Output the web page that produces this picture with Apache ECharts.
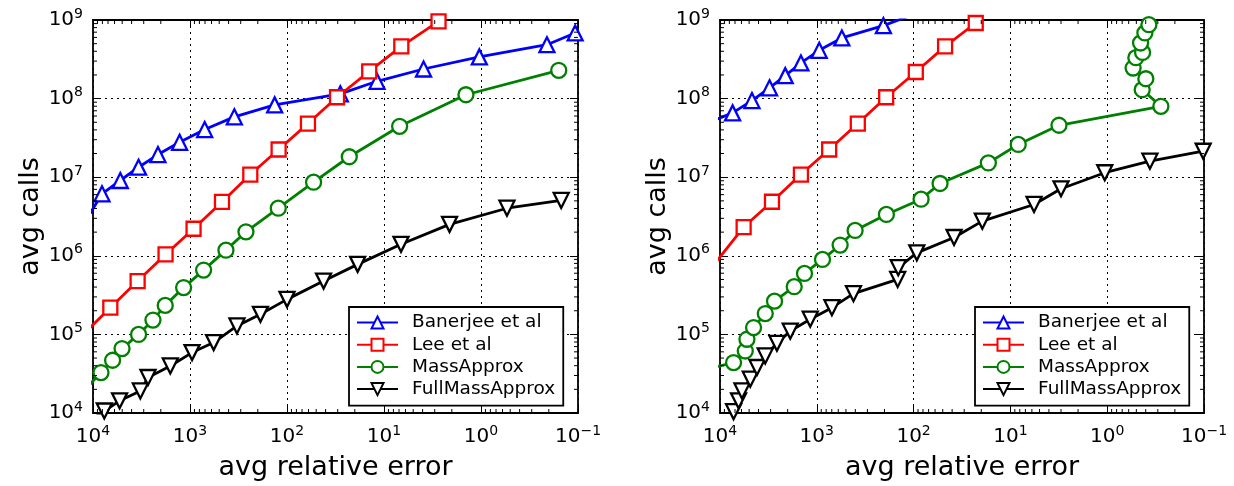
<!DOCTYPE html>
<html><head><meta charset="utf-8">
<script src="https://cdn.jsdelivr.net/npm/echarts@6/dist/echarts.min.js"></script>
<style>html,body{margin:0;padding:0;background:#fff}#c{width:1234px;height:486px}</style>
</head><body><div id="c"></div>
<script>
// ---- data: [avg relative error, avg calls] ----
const seriesNames = ['Banerjee et al', 'Lee et al', 'MassApprox', 'FullMassApprox'];
const leftBanerjee = [[1.07e4,3.46e6],[8080,6.15e6],[5230,9.08e6],[3390,1.34e7],[2140,1.94e7],[1280,2.78e7],[706,4.04e7],[349,5.86e7],[134,8.32e7],[28.2,1.15e8],[11.8,1.66e8],[3.91,2.38e8],[1.04,3.39e8],[0.209,4.85e8],[0.107,6.84e8]];
const leftLee = [[1.26e4,1.0e5],[6630,2.19e5],[3467,4.77e5],[1786,1.04e6],[919,2.21e6],[468,4.84e6],[239,1.08e7],[122,2.25e7],[60.8,4.81e7],[30.5,1.04e8],[14.2,2.22e8],[6.63,4.62e8],[2.74,9.6e8]];
const leftMass = [[1.09e4,2.28e4],[8270,3.27e4],[6280,4.69e4],[5020,6.6e4],[3390,1.0e5],[2410,1.52e5],[1800,2.34e5],[1164,3.94e5],[724,6.58e5],[426,1.18e6],[265,2.02e6],[123,4.04e6],[53.2,8.64e6],[22.8,1.82e7],[6.9,4.44e7],[1.43,1.12e8],[0.158,2.29e8]];
const leftFull = [[1.1e4,7.9e3],[7650,1.06e4],[5320,1.43e4],[3250,1.91e4],[2710,2.83e4],[1596,3.97e4],[953,5.87e4],[571,7.87e4],[328,1.28e5],[188,1.80e5],[100,2.79e5],[42,4.77e5],[18.7,7.78e5],[6.68,1.40e6],[2.11,2.51e6],[0.54,4.03e6],[0.149,5.06e6]];
const rightBanerjee = [[1.32e4,4.95e7],[7410,6.58e7],[4677,9.43e7],[3076,1.37e8],[2119,1.96e8],[1459,2.84e8],[944,4.11e8],[551,5.91e8],[205,8.47e8],[96.6,1.2e9]];
const rightLee = [[1.17e4,7.55e5],[5700,2.32e6],[2904,4.87e6],[1459,1.08e7],[745,2.25e7],[377,4.81e7],[192,1.04e8],[94.9,2.18e8],[47.3,4.62e8],[22.8,9.16e8]];
const rightMass = [[1.32e4,3.66e4],[7240,4.38e4],[5480,6.15e4],[5270,8.67e4],[4500,1.22e5],[3407,1.84e5],[2733,2.65e5],[1711,4.05e5],[1340,5.97e5],[873,9.0e5],[574,1.37e6],[402,2.10e6],[191,3.36e6],[83.7,5.25e6],[53.3,8.32e6],[16.9,1.52e7],[8.3,2.61e7],[3.15,4.58e7],[0.279,7.98e7],[0.435,1.30e8],[0.399,1.79e8],[0.540,2.45e8],[0.506,3.32e8],[0.431,3.87e8],[0.452,5.10e8],[0.408,6.84e8],[0.371,8.71e8],[0.346,1.07e9]];
const rightFull = [[6900,7.5e3],[7240,1.04e4],[6430,1.43e4],[5930,1.91e4],[4865,2.69e4],[4150,3.79e4],[3410,5.32e4],[2582,7.71e4],[1881,1.10e5],[1169,1.56e5],[698,2.19e5],[418,3.30e5],[146,5.01e5],[144,7.06e5],[92.7,1.09e6],[38.2,1.71e6],[19.5,2.76e6],[5.70,4.50e6],[3.0,7.12e6],[1.06,1.14e7],[0.362,1.60e7],[0.102,2.14e7]];
// axis ranges / ticks
const xRange = [0.1, 1e4];
const yRange = [1e4, 1e9];
const xMinorDecades = [-1, 0, 1, 2, 3];
const yMinorDecades = [4, 5, 6, 7, 8];
const minorMultipliers = [2, 3, 4, 5, 6, 7, 8, 9];
const xTitle = 'avg relative error';
const yTitle = 'avg calls';

const FONT = 'DejaVu Sans';
const colors = ['#0000ff', '#ff0000', '#008000', '#000000'];
const symbols = ['triangle', 'rect', 'circle', 'triangle'];
const rotations = [0, 0, 0, 180];
const symSizes = [15, 14, 15, 15];

function fmt(v) {
  const e = Math.round(Math.log10(v));
  return '{b|10}{s|' + (e < 0 ? '\u2212' + (-e) : e) + '}';
}
const rich = {
  b: { fontSize: 20, fontFamily: FONT, color: '#000' },
  s: { fontSize: 14, fontFamily: FONT, color: '#000', padding: [0, 0, 12, 0] }
};

const grids = [
  { left: 93, top: 20, width: 485, height: 394 },
  { left: 720, top: 20, width: 484, height: 394 }
];
const xAxes = [], yAxes = [];
grids.forEach((g, gi) => {
  const base = { type: 'log', logBase: 10, gridIndex: gi, axisLine: { show: true, onZero: false, lineStyle: { color: '#000', width: 1.8 } },
    axisTick: { show: true, inside: true, length: 8, lineStyle: { color: '#000', width: 1 } } };
  xAxes.push(Object.assign({}, base, { min: xRange[0], max: xRange[1], inverse: true, position: 'bottom',
    axisLabel: { show: true, formatter: fmt, rich: rich, margin: 11, showMinLabel: true, showMaxLabel: true },
    splitLine: { show: true, lineStyle: { color: '#000', width: 1, type: [2, 4] } },
    name: xTitle, nameLocation: 'middle', nameGap: 41, nameTextStyle: { fontSize: 27, fontFamily: FONT, color: '#000' } }));
  xAxes.push(Object.assign({}, base, { min: xRange[0], max: xRange[1], inverse: true, position: 'top',
    axisLabel: { show: false }, splitLine: { show: false } }));
  yAxes.push(Object.assign({}, base, { min: yRange[0], max: yRange[1], position: 'left',
    axisLabel: { show: true, formatter: fmt, rich: rich, margin: 10, showMinLabel: true, showMaxLabel: true },
    splitLine: { show: true, lineStyle: { color: '#000', width: 1, type: [2, 4] } },
    name: yTitle, nameLocation: 'middle', nameGap: 48, nameTextStyle: { fontSize: 27, fontFamily: FONT, color: '#000' } }));
  yAxes.push(Object.assign({}, base, { min: yRange[0], max: yRange[1], position: 'right',
    axisLabel: { show: false }, splitLine: { show: false } }));
});

const dataSets = [[leftBanerjee, leftLee, leftMass, leftFull], [rightBanerjee, rightLee, rightMass, rightFull]];
const series = [];
dataSets.forEach((sets, gi) => {
  sets.forEach((d, si) => {
    series.push({
      name: seriesNames[si], type: 'line', xAxisIndex: gi * 2, yAxisIndex: gi * 2, data: d,
      symbol: symbols[si], symbolSize: symSizes[si], symbolRotate: rotations[si], showAllSymbol: true,
      clip: true, animation: false,
      lineStyle: { color: colors[si], width: 2.8 },
      itemStyle: { color: '#fff', borderColor: colors[si], borderWidth: 2.3 },
      emphasis: { disabled: true }, z: 2 + si
    });
  });
  // minor ticks (log 2..9) on all four sides
  const minorData = [];
  xMinorDecades.forEach(k => minorMultipliers.forEach(m => minorData.push([m * Math.pow(10, k), 1e6, 0])));
  yMinorDecades.forEach(k => minorMultipliers.forEach(m => minorData.push([1, m * Math.pow(10, k), 1])));
  series.push({
    type: 'custom', xAxisIndex: gi * 2, yAxisIndex: gi * 2, data: minorData, silent: true, z: 10, animation: false,
    encode: { x: 0, y: 1 },
    renderItem: function (params, api) {
      const cs = params.coordSys;
      const p = api.coord([api.value(0), api.value(1)]);
      const st = { stroke: '#000', lineWidth: 1 };
      if (api.value(2) === 0) {
        const x = p[0];
        return { type: 'group', children: [
          { type: 'line', shape: { x1: x, y1: cs.y + cs.height, x2: x, y2: cs.y + cs.height - 4 }, style: st },
          { type: 'line', shape: { x1: x, y1: cs.y, x2: x, y2: cs.y + 4 }, style: st } ] };
      } else {
        const y = p[1];
        return { type: 'group', children: [
          { type: 'line', shape: { x1: cs.x, y1: y, x2: cs.x + 4, y2: y }, style: st },
          { type: 'line', shape: { x1: cs.x + cs.width, y1: y, x2: cs.x + cs.width - 4, y2: y }, style: st } ] };
      }
    }
  });
});

const legendBase = { orient: 'vertical', data: seriesNames, itemWidth: 41, itemHeight: 15, itemGap: 3.2,
  backgroundColor: '#fff', borderColor: '#000', borderWidth: 1.8, borderRadius: 0, padding: [6, 8, 7, 7],
  textStyle: { fontSize: 18.5, fontFamily: FONT, color: '#000', padding: [0, 0, 0, 9] }, selectedMode: false, z: 20 };
const legends = [
  Object.assign({}, legendBase, { left: 349, top: 307 }),
  Object.assign({}, legendBase, { left: 975, top: 307 })
];

const chart = echarts.init(document.getElementById('c'), null, { renderer: 'canvas' });
chart.setOption({
  backgroundColor: '#fff', animation: false, textStyle: { fontFamily: FONT },
  grid: grids, xAxis: xAxes, yAxis: yAxes, legend: legends, series: series
});
</script></body></html>
